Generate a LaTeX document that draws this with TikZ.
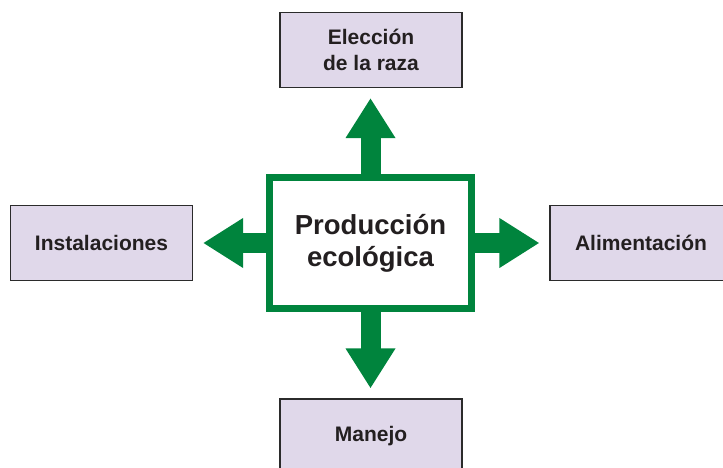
\documentclass[tikz,border=0pt]{standalone}
\usepackage{fontspec}
\setmainfont{Liberation Sans}
\usetikzlibrary{arrows.meta}
\definecolor{ecogreen}{HTML}{00843D}
\definecolor{lavender}{HTML}{E0D8EA}
\definecolor{boxline}{HTML}{2B2B2B}
\definecolor{txt}{HTML}{231F20}
\tikzset{
  sidebox/.style={draw=boxline, line width=1.1pt, fill=lavender, minimum width=182pt, minimum height=75pt, inner sep=0pt, align=center, text=txt, font=\bfseries\fontsize{21}{25.5}\selectfont},
  centerbox/.style={draw=ecogreen, line width=6.5pt, fill=white, minimum width=202pt, minimum height=131pt, inner sep=0pt, align=center, text=txt, font=\bfseries\fontsize{27.5}{32}\selectfont},
  bigarrow/.style={draw=ecogreen, line width=20pt, -{Triangle[width=47pt,length=40pt]}, shorten >=10pt}
}
\begin{document}
\begin{tikzpicture}[x=1pt,y=-1pt]
\useasboundingbox (0,0) rectangle (723,468);
\clip (0,0) rectangle (723,468);
\node[sidebox] (eleccion) at (371,50) {Elección\\de la raza};
\node[sidebox] (instal) at (101.5,243) {Instalaciones};
\node[sidebox] (alim) at (641,243) {Alimentación};
\node[sidebox] (manejo) at (371,436.5) {Manejo};
\coordinate (c) at (370.5,243);
\draw[bigarrow] (c) -- (c |- eleccion.south);
\draw[bigarrow] (c) -- (c |- manejo.north);
\draw[bigarrow] (c) -- (instal.east);
\draw[bigarrow] (c) -- (alim.west);
\node[centerbox] (prod) at (c) {Producción\\ecológica};
\end{tikzpicture}
\end{document}
